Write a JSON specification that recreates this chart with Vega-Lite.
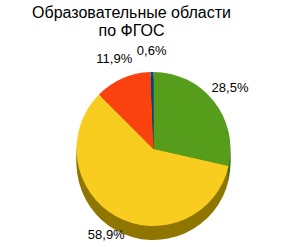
{
  "$schema": "https://vega.github.io/schema/vega-lite/v6.json",
  "width": 307,
  "height": 247,
  "autosize": {"type": "fit", "contains": "padding"},
  "padding": {"top": 13, "left": 5, "right": 5, "bottom": 2},
  "background": "white",
  "config": {"view": {"stroke": null}},
  "title": {
    "text": ["Образовательные области", "по ФГОС"],
    "font": "Liberation Sans",
    "fontSize": 16,
    "fontWeight": "normal",
    "color": "#000000",
    "anchor": "middle",
    "dx": -22,
    "lineHeight": 18,
    "offset": 6
  },
  "data": {
    "values": [
      {"k": 1, "value": 28.5, "label": "28,5%"},
      {"k": 2, "value": 58.9, "label": "58,9%"},
      {"k": 3, "value": 11.9, "label": "11,9%"},
      {"k": 4, "value": 0.6, "label": "0,6%"}
    ]
  },
  "encoding": {
    "theta": {"field": "value", "type": "quantitative", "stack": true},
    "order": {"field": "k", "type": "quantitative"}
  },
  "layer": [
    {
      "mark": {"type": "arc", "outerRadius": 77, "yOffset": 14},
      "encoding": {"color": {"field": "k", "type": "nominal", "legend": null, "scale": {"domain": [1, 2, 3, 4], "range": ["#3d6e14", "#8f7600", "#b32e0a", "#00305e"]}}}
    },
    {
      "mark": {"type": "arc", "outerRadius": 77, "yOffset": 10},
      "encoding": {"color": {"field": "k", "type": "nominal", "legend": null, "scale": {"domain": [1, 2, 3, 4], "range": ["#3d6e14", "#8f7600", "#b32e0a", "#00305e"]}}}
    },
    {
      "mark": {"type": "arc", "outerRadius": 77, "yOffset": 5},
      "encoding": {"color": {"field": "k", "type": "nominal", "legend": null, "scale": {"domain": [1, 2, 3, 4], "range": ["#3d6e14", "#8f7600", "#b32e0a", "#00305e"]}}}
    },
    {
      "mark": {"type": "arc", "outerRadius": 77},
      "encoding": {"fill": {"field": "k", "type": "nominal", "legend": null, "scale": {"domain": [1, 2, 3, 4], "range": ["#579d1c", "#f9cd1f", "#f9420e", "#004586"]}}}
    },
    {
      "mark": {"type": "text", "radius": 98, "font": "Liberation Sans", "fontSize": 13, "color": "#000000"},
      "encoding": {"text": {"field": "label", "type": "nominal"}}
    }
  ],
  "resolve": {"scale": {"color": "independent"}}
}
